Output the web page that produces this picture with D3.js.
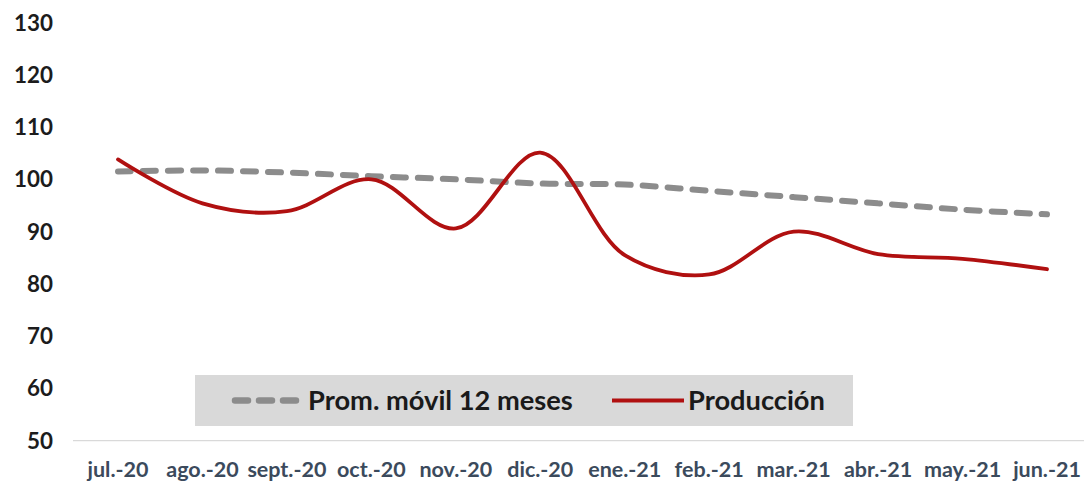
<!DOCTYPE html>
<html><head><meta charset="utf-8">
<script src="https://cdn.jsdelivr.net/npm/d3@7"></script>
<style>body{margin:0;background:#fff}svg{display:block}</style>
</head><body>
<script>
const months = ["jul.-20","ago.-20","sept.-20","oct.-20","nov.-20","dic.-20","ene.-21","feb.-21","mar.-21","abr.-21","may.-21","jun.-21"];
const produccion = [103.8, 95.4, 93.9, 100.0, 90.6, 105.1, 85.5, 81.8, 90.0, 85.7, 84.8, 82.8];
const promMovil = [101.5, 101.7, 101.3, 100.6, 100.0, 99.2, 99.0, 97.8, 96.6, 95.4, 94.2, 93.3];
const yTicks = [50, 60, 70, 80, 90, 100, 110, 120, 130];
const legendLabels = ["Prom. móvil 12 meses", "Producción"];

const W = 1084, H = 482;
const FONT = "Lato, 'Open Sans', sans-serif";
const svg = d3.select("body").append("svg").attr("width", W).attr("height", H);

const x = d3.scalePoint().domain(months).range([118, 1047]);
const y = d3.scaleLinear().domain([50, 130]).range([440.7, 22.5]);

// size a font so a sample string spans a target width
function fitSize(str, target) {
  const t = svg.append("text").style("font-family", FONT).style("font-weight", "bold")
    .style("font-size", "20px").text(str);
  const w = t.node().getComputedTextLength();
  t.remove();
  return 20 * target / w;
}

// baseline
svg.append("line").attr("x1", 73).attr("x2", 1084).attr("y1", y(50)).attr("y2", y(50))
  .attr("stroke", "#d9d9d9").attr("stroke-width", 1.3);

// y labels
const ySize = fitSize("130", 39);
svg.append("g").selectAll("text").data(yTicks).join("text")
  .attr("x", 53).attr("y", d => y(d)).attr("dy", "0.36em")
  .attr("text-anchor", "end")
  .style("font-family", FONT).style("font-weight", "bold")
  .style("font-size", ySize + "px").attr("fill", "#1c1c1c").text(d => d);

// x labels
const xSize = fitSize("jul.-20", 61);
svg.append("g").selectAll("text").data(months).join("text")
  .attr("x", d => x(d)).attr("y", 469).attr("dy", "0.36em")
  .attr("text-anchor", "middle")
  .style("font-family", FONT).style("font-weight", "bold")
  .style("font-size", xSize + "px").attr("fill", "#3b4a5c").text(d => d);

const line = d3.line().x((d, i) => x(months[i])).y(d => y(d)).curve(d3.curveCatmullRom.alpha(0.5));

svg.append("path").datum(promMovil).attr("d", line).attr("fill", "none")
  .attr("stroke", "#8c8c8c").attr("stroke-width", 6).attr("stroke-dasharray", "13,12")
  .attr("stroke-linecap", "round");

svg.append("path").datum(produccion).attr("d", line).attr("fill", "none")
  .attr("stroke", "#b01010").attr("stroke-width", 3.8).attr("stroke-linecap", "round");

// legend
const lg = svg.append("g");
lg.append("rect").attr("x", 195).attr("y", 375).attr("width", 658).attr("height", 51).attr("fill", "#d9d9d9");
lg.append("line").attr("x1", 235).attr("x2", 296).attr("y1", 400.5).attr("y2", 400.5)
  .attr("stroke", "#8c8c8c").attr("stroke-width", 6.5).attr("stroke-dasharray", "13,11").attr("stroke-linecap", "round");
const lSize = (fitSize(legendLabels[0], 265) + fitSize(legendLabels[1], 137)) / 2;
lg.append("text").attr("x", 308).attr("y", 400).attr("dy", "0.36em")
  .style("font-family", FONT).style("font-weight", "bold")
  .style("font-size", lSize + "px").attr("fill", "#1a1a1a").text(legendLabels[0]);
lg.append("line").attr("x1", 612).attr("x2", 684).attr("y1", 400.5).attr("y2", 400.5)
  .attr("stroke", "#b01010").attr("stroke-width", 4);
lg.append("text").attr("x", 688).attr("y", 400).attr("dy", "0.36em")
  .style("font-family", FONT).style("font-weight", "bold")
  .style("font-size", lSize + "px").attr("fill", "#1a1a1a").text(legendLabels[1]);
</script>
</body></html>
